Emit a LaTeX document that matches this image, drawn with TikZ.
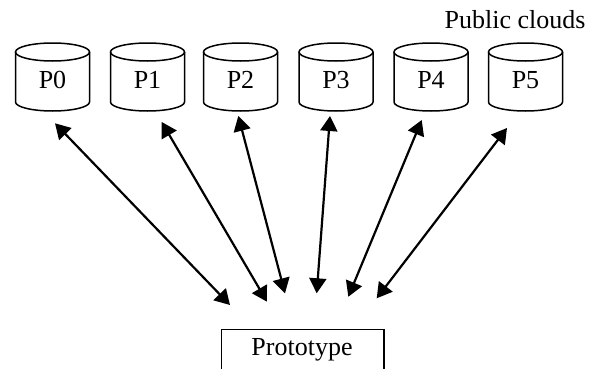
\documentclass[tikz,border=0pt]{standalone}
\usepackage{fontspec}
\setmainfont{Liberation Serif}
\usetikzlibrary{arrows.meta}
\tikzset{
  cyl/.style={line width=1.5pt},
  lbl/.style={font=\fontsize{26}{30}\selectfont, inner sep=0pt},
  link/.style={line width=2.2pt, {Triangle[length=15pt,width=17pt]}-{Triangle[length=15pt,width=17pt]}},
  protobox/.style={draw, line width=1.3pt}
}
\begin{document}
\begin{tikzpicture}[x=1pt,y=1pt]
\useasboundingbox (0,0) rectangle (597,368);
\clip (0,0) rectangle (597,368);
% cylinders
\foreach \i/\cx in {0/52.5,1/147.5,2/240.5,3/336,4/431,5/525.5}{
  \draw[cyl] (\cx-37,316) -- (\cx-37,266)
     arc[start angle=180,end angle=360,x radius=37pt,y radius=9pt] -- (\cx+37,316);
  \draw[cyl] (\cx,316) ellipse [x radius=37pt, y radius=9pt];
  \node[lbl] (p\i) at (\cx,288) {P\i};
}
\node[lbl, anchor=base] (pc) at (515,340) {Public clouds};
% prototype box (bottom edge cut by the picture border)
\draw[protobox] (221.7,-5) rectangle (384,38.7);
\node[lbl, anchor=base] (proto) at (302,13) {Prototype};
% arrow ends
\foreach \i/\ax/\ay/\bx/\by in {0/55/244.7/230/63, 1/161.7/246/267/66.3, 2/238.3/252/285/74.7, 3/330/252/316.7/74.7, 4/421.7/248/348.3/71.3, 5/507/240/376.7/69.7}{
  \coordinate (a\i) at (\ax,\ay);
  \coordinate (b\i) at (\bx,\by);
  \draw[link] (a\i) -- (b\i);
}
\end{tikzpicture}
\end{document}
